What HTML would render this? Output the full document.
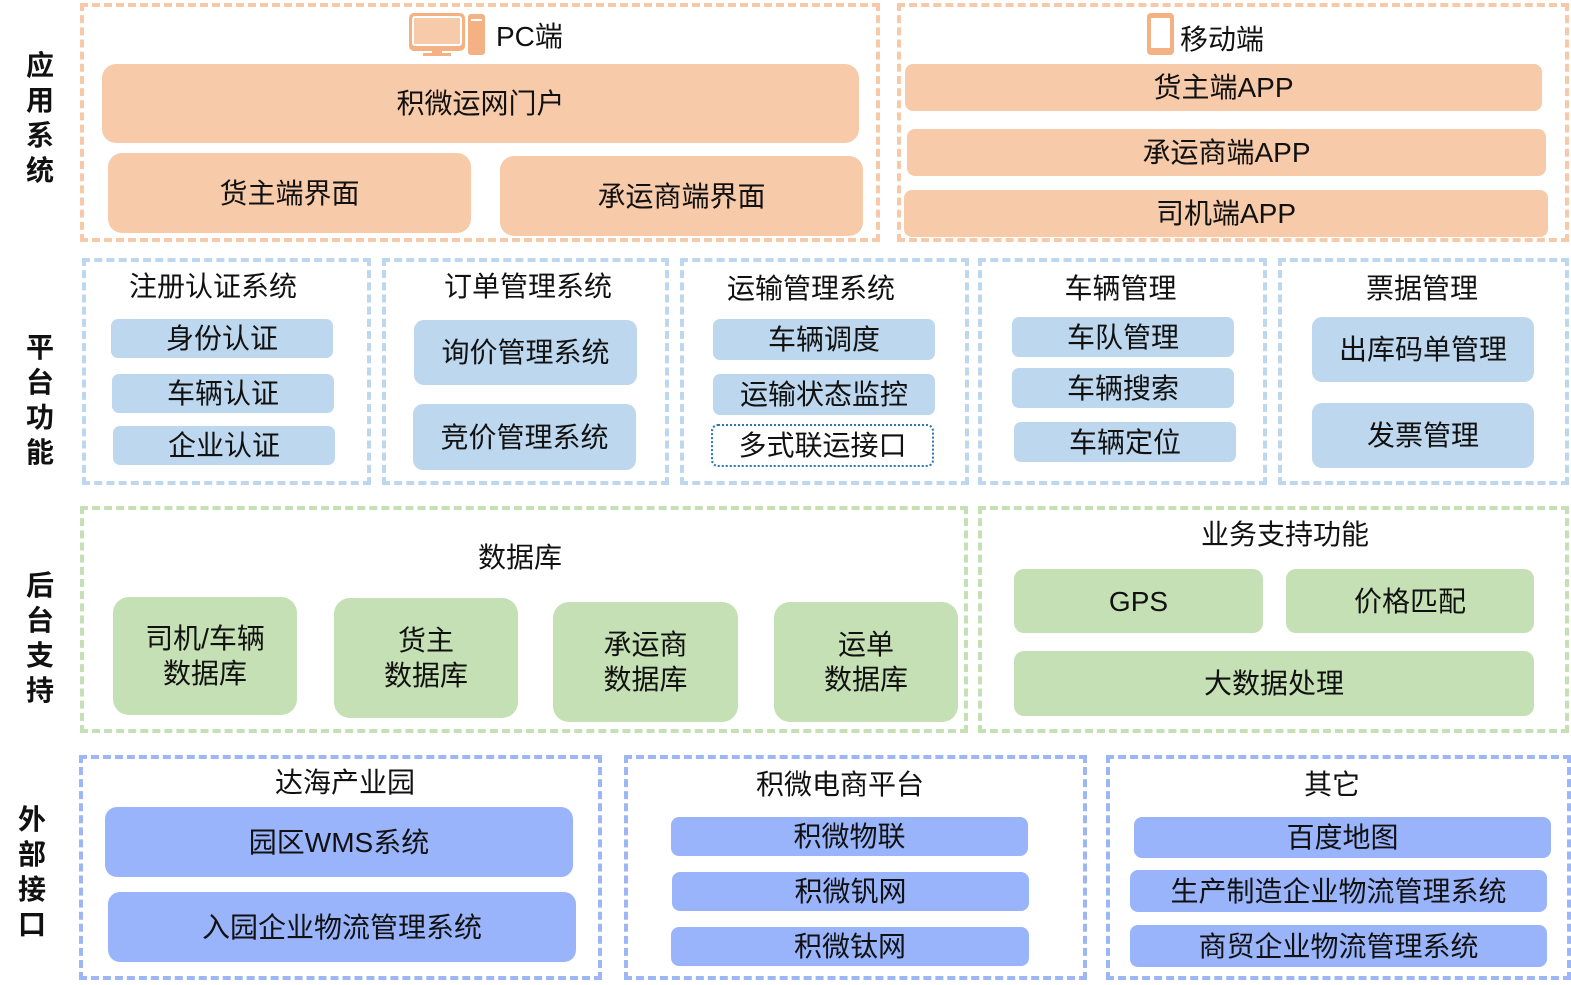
<!DOCTYPE html>
<html><head><meta charset="utf-8"><style>
body{margin:0;width:1571px;height:985px;background:#fff;position:relative;overflow:hidden;font-family:"Liberation Sans","Noto Sans CJK SC",sans-serif;color:#111}
div{position:absolute;box-sizing:border-box}
.c{border:4px dashed}
.o{border-color:#f8c9a8}.b{border-color:#bdd7ee}.g{border-color:#c5e0b4}.p{border-color:#9db6f5}
.n{display:flex;align-items:center;justify-content:center;text-align:center;font-size:28px;line-height:35px}
.of{background:#f7caa9;border-radius:14px}
.bf{background:#bdd7ee;border-radius:7px}
.gf{background:#c5e0b4;border-radius:16px}
.pf{background:#99b4fb;border-radius:8px}
.t{font-size:28px;text-align:center}
.l{font-size:28px;font-weight:bold;width:40px;text-align:center;line-height:35px;left:20px}
</style></head><body>
<div class="l" style="top:48px">应<br>用<br>系<br>统</div>
<div class="l" style="top:330px">平<br>台<br>功<br>能</div>
<div class="l" style="top:568px">后<br>台<br>支<br>持</div>
<div class="l" style="top:802px;left:12px">外<br>部<br>接<br>口</div>

<div class="c o" style="left:80px;top:3px;width:800px;height:239px"></div>
<div class="c o" style="left:897px;top:3px;width:672px;height:239px"></div>
<svg style="position:absolute;left:408px;top:12px" width="80" height="44"><rect x="1" y="1" width="56" height="38" rx="5" fill="#f4b183"/><rect x="5" y="5" width="48" height="28" rx="2" fill="#f7caa9" stroke="#fff" stroke-width="2"/><rect x="24" y="38" width="10" height="5" fill="#f4b183"/><rect x="15" y="41" width="28" height="3" fill="#f4b183"/><rect x="60" y="2" width="17" height="41" rx="3" fill="#f4b183"/><rect x="63" y="7" width="11" height="2" fill="#fff"/></svg>
<div class="t" style="left:496px;top:15px;width:80px;text-align:left">PC端</div>
<svg style="position:absolute;left:1146px;top:12px" width="30" height="44"><rect x="1" y="1" width="27" height="42" rx="4" fill="#f4b183"/><rect x="5" y="6" width="19" height="30" fill="#fff"/></svg>
<div class="t" style="left:1180px;top:18px;width:100px;text-align:left">移动端</div>
<div class="n of" style="left:102px;top:64px;width:757px;height:79px">积微运网门户</div>
<div class="n of" style="left:108px;top:153px;width:363px;height:80px">货主端界面</div>
<div class="n of" style="left:500px;top:156px;width:363px;height:80px">承运商端界面</div>
<div class="n of" style="left:905px;top:64px;width:637px;height:47px;border-radius:8px">货主端APP</div>
<div class="n of" style="left:907px;top:129px;width:639px;height:47px;border-radius:8px">承运商端APP</div>
<div class="n of" style="left:904px;top:190px;width:644px;height:47px;border-radius:8px">司机端APP</div>

<div class="c b" style="left:82px;top:258px;width:289px;height:227px"></div>
<div class="c b" style="left:382px;top:258px;width:287px;height:227px"></div>
<div class="c b" style="left:680px;top:258px;width:289px;height:227px"></div>
<div class="c b" style="left:978px;top:258px;width:289px;height:227px"></div>
<div class="c b" style="left:1278px;top:258px;width:291px;height:227px"></div>
<div class="t" style="left:82px;top:265px;width:262px">注册认证系统</div>
<div class="t" style="left:382px;top:265px;width:292px">订单管理系统</div>
<div class="t" style="left:680px;top:267px;width:262px">运输管理系统</div>
<div class="t" style="left:978px;top:267px;width:285px">车辆管理</div>
<div class="t" style="left:1278px;top:267px;width:288px">票据管理</div>
<div class="n bf" style="left:111px;top:319px;width:222px;height:39px">身份认证</div>
<div class="n bf" style="left:112px;top:374px;width:222px;height:39px">车辆认证</div>
<div class="n bf" style="left:113px;top:426px;width:222px;height:39px">企业认证</div>
<div class="n bf" style="left:414px;top:320px;width:223px;height:65px;border-radius:10px">询价管理系统</div>
<div class="n bf" style="left:413px;top:404px;width:223px;height:66px;border-radius:10px">竞价管理系统</div>
<div class="n bf" style="left:713px;top:319px;width:222px;height:41px">车辆调度</div>
<div class="n bf" style="left:713px;top:374px;width:222px;height:41px">运输状态监控</div>
<div class="n" style="left:711px;top:424px;width:223px;height:43px;border:2px dotted #2e75b6;border-radius:7px">多式联运接口</div>
<div class="n bf" style="left:1012px;top:317px;width:222px;height:40px">车队管理</div>
<div class="n bf" style="left:1012px;top:368px;width:222px;height:40px">车辆搜索</div>
<div class="n bf" style="left:1014px;top:422px;width:222px;height:40px">车辆定位</div>
<div class="n bf" style="left:1312px;top:317px;width:222px;height:65px;border-radius:10px">出库码单管理</div>
<div class="n bf" style="left:1312px;top:403px;width:222px;height:65px;border-radius:10px">发票管理</div>

<div class="c g" style="left:80px;top:506px;width:888px;height:227px"></div>
<div class="c g" style="left:978px;top:506px;width:591px;height:227px"></div>
<div class="t" style="left:420px;top:536px;width:200px">数据库</div>
<div class="t" style="left:1160px;top:513px;width:250px">业务支持功能</div>
<div class="n gf" style="left:113px;top:597px;width:184px;height:118px">司机/车辆<br>数据库</div>
<div class="n gf" style="left:334px;top:598px;width:184px;height:120px">货主<br>数据库</div>
<div class="n gf" style="left:553px;top:602px;width:185px;height:120px">承运商<br>数据库</div>
<div class="n gf" style="left:774px;top:602px;width:184px;height:120px">运单<br>数据库</div>
<div class="n gf" style="left:1014px;top:569px;width:249px;height:64px;border-radius:10px">GPS</div>
<div class="n gf" style="left:1286px;top:569px;width:248px;height:64px;border-radius:10px">价格匹配</div>
<div class="n gf" style="left:1014px;top:651px;width:520px;height:65px;border-radius:10px">大数据处理</div>

<div class="c p" style="left:79px;top:755px;width:523px;height:225px"></div>
<div class="c p" style="left:624px;top:755px;width:463px;height:225px"></div>
<div class="c p" style="left:1106px;top:755px;width:465px;height:225px"></div>
<div class="t" style="left:245px;top:761px;width:200px">达海产业园</div>
<div class="t" style="left:720px;top:763px;width:240px">积微电商平台</div>
<div class="t" style="left:1252px;top:763px;width:160px">其它</div>
<div class="n pf" style="left:105px;top:807px;width:468px;height:70px;border-radius:12px">园区WMS系统</div>
<div class="n pf" style="left:108px;top:892px;width:468px;height:70px;border-radius:12px">入园企业物流管理系统</div>
<div class="n pf" style="left:671px;top:817px;width:357px;height:39px">积微物联</div>
<div class="n pf" style="left:672px;top:872px;width:357px;height:39px">积微钒网</div>
<div class="n pf" style="left:671px;top:927px;width:358px;height:39px">积微钛网</div>
<div class="n pf" style="left:1134px;top:817px;width:417px;height:41px">百度地图</div>
<div class="n pf" style="left:1130px;top:870px;width:417px;height:42px">生产制造企业物流管理系统</div>
<div class="n pf" style="left:1130px;top:925px;width:417px;height:42px">商贸企业物流管理系统</div>
</body></html>
